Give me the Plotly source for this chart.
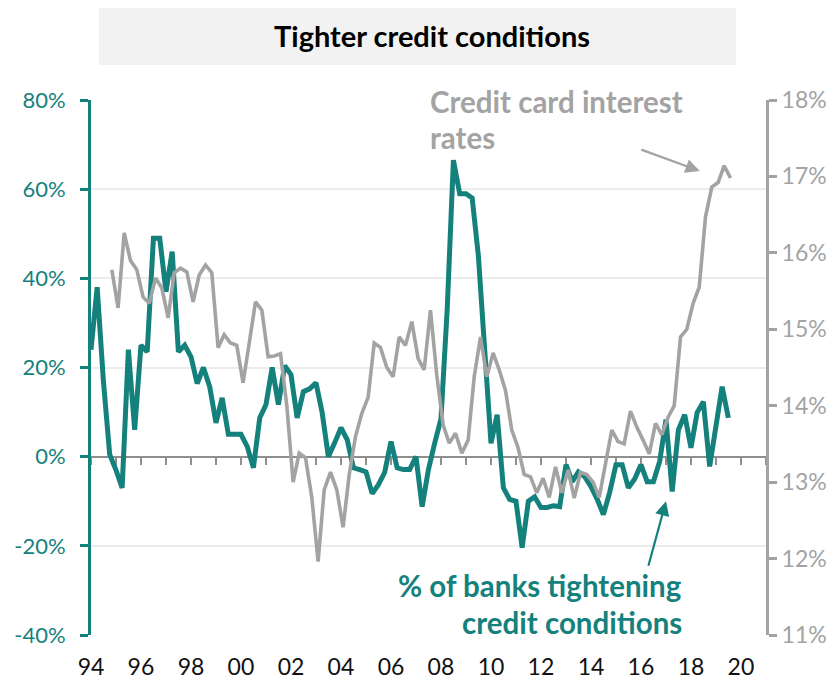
import pandas as pd
import plotly.graph_objects as go

# % of banks tightening credit conditions (quarterly, from 1994 Q1)
banks_tightening = [
    24, 38, 17, 0.5, -3, -7, 24, 6, 25, 23.5,
    49, 49, 37, 46, 23.5, 25, 22.4, 16.4, 20, 15.7,
    7.6, 13.2, 5, 5, 5, 2.3, -2.5, 8.7, 11.7, 20,
    11.7, 20.4, 18.4, 8.7, 14.6, 15.2, 16.6, 9.9, 0, 3.1,
    6.5, 3.8, -2.5, -2.9, -3.4, -8.3, -6.3, -3.5, 3.4, -2.5,
    -2.9, -2.9, 0, -11.2, -3, 3, 8.5, 33, 66.5, 59,
    59, 58, 45, 24, 3, 9.4, -7, -9.6, -10, -20.4,
    -10, -9, -11.4, -11.4, -11, -11.2, -1.8, -5.6, -3.4, -4.5,
    -6.7, -9.5, -13, -8, -1.8, -1.8, -7, -5, -1.8, -5.6,
    -5.6, -1, 8.3, -7.8, 6, 9.4, 2, 9.9, 12.3, -2.2,
    7, 15.7, 8.7,
]

# Credit card interest rates (quarterly, from 1994 Q4)
card_rate = [
    15.78, 15.28, 16.26, 15.9, 15.78, 15.42, 15.34, 15.67, 15.54, 15.15,
    15.74, 15.8, 15.75, 15.36, 15.71, 15.84, 15.74, 14.76, 14.93, 14.82,
    14.79, 14.3, 14.82, 15.36, 15.25, 14.64, 14.65, 14.68, 14.0, 13.0,
    13.38, 13.32, 12.8, 11.96, 12.9, 13.13, 12.9, 12.41, 13.1, 13.6,
    13.9, 14.11, 14.82, 14.76, 14.5, 14.38, 14.9, 14.79, 15.1, 14.62,
    14.47, 15.25, 14.4, 13.75, 13.51, 13.64, 13.38, 13.55, 14.38, 14.9,
    14.38, 14.69, 14.47, 14.2, 13.68, 13.45, 13.1, 13.07, 12.86, 13.05,
    12.8, 13.2, 12.86, 13.16, 12.79, 13.13, 13.1, 13.0, 12.8, 13.25,
    13.68, 13.53, 13.5, 13.93, 13.72, 13.55, 13.37, 13.77, 13.62, 13.85,
    14.0, 14.9, 15.0, 15.34, 15.55, 16.47, 16.86, 16.92, 17.14, 16.98,
]

year_ticks = [f"{y}-01-01" for y in range(1994, 2021, 2)]
year_labels = ["94", "96", "98", "00", "02", "04", "06", "08", "10", "12", "14", "16", "18", "20"]
left_ticks = [-40, -20, 0, 20, 40, 60, 80]
left_labels = ["-40%", "-20%", "0%", "20%", "40%", "60%", "80%"]
right_ticks = [11, 12, 13, 14, 15, 16, 17, 18]
right_labels = ["11%", "12%", "13%", "14%", "15%", "16%", "17%", "18%"]

teal_dates = pd.date_range("1994-01-01", periods=len(banks_tightening), freq="QS-JAN").strftime("%Y-%m-%d").tolist()
gray_dates = pd.date_range("1994-11-01", periods=len(card_rate), freq="QS-NOV").strftime("%Y-%m-%d").tolist()

TEAL = "#15817d"
GRAY = "#a3a3a3"
FONT = "Lato"

# page is offset by the 8px body margin: plot area spans page x 91..766, y 100..635
OFF = 8
W, H = 836 - OFF, 682 - OFF
PL, PR, PT, PB = 91, 766, 100, 635
PW, PH = PR - PL, PB - PT


def px(x):
    return (x - PL) / PW


def py(y):
    return (PB - y) / PH


fig = go.Figure()
fig.add_trace(go.Scatter(x=teal_dates, y=banks_tightening, mode="lines",
                         line=dict(color=TEAL, width=5), xaxis="x", yaxis="y",
                         showlegend=False, hoverinfo="skip"))
fig.add_trace(go.Scatter(x=gray_dates, y=card_rate, mode="lines",
                         line=dict(color=GRAY, width=3.6), xaxis="x", yaxis="y2",
                         showlegend=False, hoverinfo="skip"))
# empty helper trace so the zero-line axis (x2) is rendered
fig.add_trace(go.Scatter(x=[], y=[], xaxis="x2", yaxis="y", showlegend=False, hoverinfo="skip"))

xrange = ["1994-01-01", "2021-01-01"]

fig.update_layout(
    width=W, height=H,
    margin=dict(l=PL - OFF, r=W - (PR - OFF), t=PT - OFF, b=H - (PB - OFF), autoexpand=False),
    paper_bgcolor="white", plot_bgcolor="white",
    font=dict(family=FONT),
    xaxis=dict(type="date", range=xrange, tickvals=year_ticks, ticktext=year_labels,
               ticks="outside", ticklen=11, tickcolor="rgba(0,0,0,0)",
               showgrid=False, showline=False, zeroline=False,
               tickfont=dict(size=23, color="#111111", family=FONT)),
    xaxis2=dict(type="date", range=xrange, overlaying="x", anchor="free", position=1/3,
                showline=True, linecolor="#8f8f8f", linewidth=2,
                ticks="outside", tick0="1994-01-01", dtick="M12", ticklen=7, tickwidth=2,
                tickcolor="#8f8f8f", showticklabels=False, showgrid=False, zeroline=False,
                layer="below traces"),
    yaxis=dict(range=[-40, 80], tickvals=left_ticks, ticktext=left_labels,
               ticks="outside", ticklen=8, tickwidth=3, tickcolor=TEAL,
               showline=True, linecolor=TEAL, linewidth=3,
               showgrid=True, gridcolor="#ececec", gridwidth=1.5, zeroline=False,
               ticklabelstandoff=10,
               tickfont=dict(size=22, color=TEAL, family=FONT)),
    yaxis2=dict(range=[11, 18], tickvals=right_ticks, ticktext=right_labels,
                overlaying="y", side="right", anchor="x",
                ticks="outside", ticklen=8, tickwidth=3, tickcolor=GRAY,
                showline=True, linecolor=GRAY, linewidth=3,
                showgrid=False, zeroline=False,
                tickfont=dict(size=23, color=GRAY, family=FONT)),
)

# title band
fig.add_shape(type="rect", xref="paper", yref="paper",
              x0=px(99), x1=px(736), y0=py(65), y1=py(4),
              fillcolor="#f2f2f2", line=dict(width=0), layer="below")
fig.add_annotation(xref="paper", yref="paper", x=px(432), y=py(36),
                   text="<b>Tighter credit conditions</b>", showarrow=False,
                   font=dict(size=29, color="#000000", family=FONT),
                   xanchor="center", yanchor="middle")

# credit card label
for txt, yc in [("Credit card interest", 101), ("rates", 138)]:
    fig.add_annotation(xref="paper", yref="paper", x=px(428), y=py(yc),
                       text=f"<b>{txt}</b>", showarrow=False,
                       font=dict(size=29.5, color=GRAY, family=FONT),
                       xanchor="left", yanchor="middle")
fig.add_annotation(x="2018-05-10", y=17.07, xref="x", yref="y2", text="",
                   showarrow=True, arrowhead=2, arrowsize=1.3, arrowwidth=2.2,
                   arrowcolor=GRAY, ax=-60, ay=-22)

# banks label
for txt, yc in [("% of banks tightening", 585), ("credit conditions", 622)]:
    fig.add_annotation(xref="paper", yref="paper", x=px(684), y=py(yc),
                       text=f"<b>{txt}</b>", showarrow=False,
                       font=dict(size=29.5, color=TEAL, family=FONT),
                       xanchor="right", yanchor="middle")
fig.add_annotation(x="2017-01-01", y=-10, xref="x", yref="y", text="",
                   showarrow=True, arrowhead=2, arrowsize=1.3, arrowwidth=2.2,
                   arrowcolor=TEAL, ax=-18, ay=66)

fig.write_html("out.html")
